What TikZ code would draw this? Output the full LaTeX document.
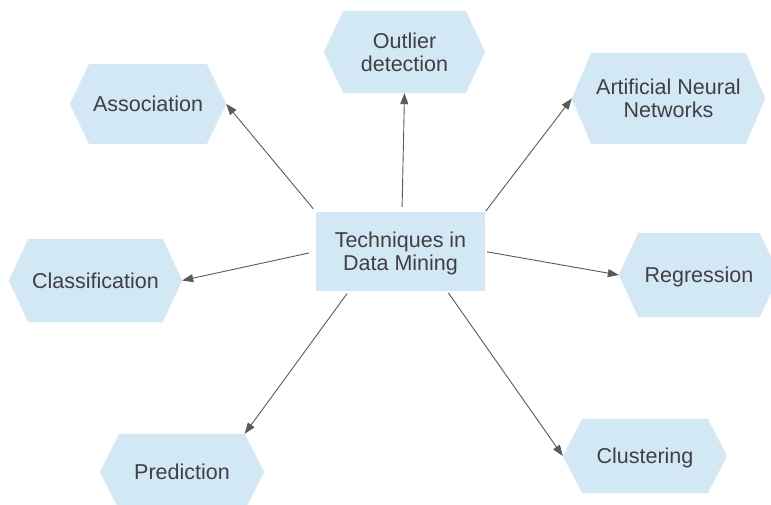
\documentclass[tikz,border=0pt]{standalone}
\usepackage{fontspec}
\setmainfont{Liberation Sans}
\usetikzlibrary{arrows.meta,calc,backgrounds}
\definecolor{hexfill}{RGB}{210,232,245}
\definecolor{txt}{RGB}{64,64,64}
\definecolor{arr}{RGB}{90,90,90}
\begin{document}
\begin{tikzpicture}[x=1pt,y=-1pt,
  lbl/.style={font=\fontsize{21.5}{23}\selectfont, text=txt, align=center, text depth=0pt, inner sep=0pt},
  conn/.style={draw=arr, line width=0.9pt, -{Triangle[length=11pt,width=8pt]}}]
\useasboundingbox (0,0) rectangle (771,505);
\clip (0,0) rectangle (771,505);
\node[lbl, minimum width=169pt, minimum height=79pt, fill=hexfill] (c) at (400.5,251.5) {Techniques in\\Data Mining};
\node[lbl, minimum width=156pt, minimum height=80pt] (assoc) at (148,104) {Association};
\node[lbl, minimum width=161pt, minimum height=82pt] (outlier) at (404.5,52) {Outlier\\detection};
\node[lbl, minimum width=193pt, minimum height=91pt] (ann) at (668.5,98.5) {Artificial Neural\\Networks};
\node[lbl, minimum width=173pt, minimum height=83pt] (classif) at (95.5,280.5) {Classification};
\node[lbl, minimum width=160pt, minimum height=84pt] (regr) at (699,275) {Regression};
\node[lbl, minimum width=164pt, minimum height=76pt] (pred) at (182,472) {Prediction};
\node[lbl, minimum width=164pt, minimum height=74pt] (clust) at (645,456) {Clustering};
\begin{scope}[on background layer]
\foreach \n in {assoc,outlier,ann,classif,regr,pred,clust}{
  \fill[hexfill] (\n.west) -- ($(\n.north west)+(19.5,0)$) -- ($(\n.north east)+(-19.5,0)$) -- (\n.east) -- ($(\n.south east)+(-19.5,0)$) -- ($(\n.south west)+(19.5,0)$) -- cycle;
}
\end{scope}
\draw[conn, shorten <=4pt] (c.north west) -- (assoc.east);
\draw[conn, shorten <=5pt] ($(c.north)+(1.5,0)$) -- (outlier.south);
\draw[conn, shorten <=1pt] (c.north east) -- (ann.west);
\draw[conn, shorten <=7pt] (c.west) -- (classif.east);
\draw[conn, shorten <=2pt] (c.east) -- (regr.west);
\draw[conn, shorten <=3pt] ($(c.south west)+(33,0)$) -- ($(pred.north east)+(-19.5,0)$);
\draw[conn, shorten <=2pt] ($(c.south east)+(-38,0)$) -- (clust.west);
\end{tikzpicture}
\end{document}
